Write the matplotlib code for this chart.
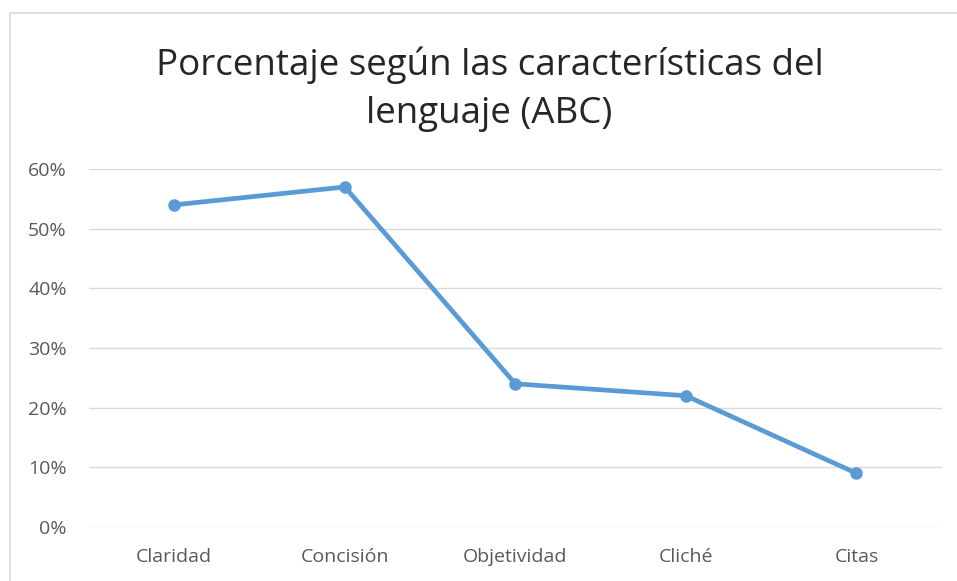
import matplotlib.pyplot as plt
from matplotlib.patches import Rectangle
from matplotlib.ticker import PercentFormatter

categories = ["Claridad", "Concisión", "Objetividad", "Cliché", "Citas"]
values = [0.54, 0.57, 0.24, 0.22, 0.09]
yticks = [0, 0.1, 0.2, 0.3, 0.4, 0.5, 0.6]

plt.rcParams['font.family'] = ['Open Sans', 'DejaVu Sans']

fig = plt.figure(figsize=(9.57, 5.81), dpi=100)
ax = fig.add_axes([0.093, 0.093, 0.891, 0.616])

x = range(len(categories))
ax.plot(x, values, color='#5B9BD5', lw=3.4, marker='o', markersize=8,
        solid_capstyle='round', solid_joinstyle='round', zorder=3)

ax.set_xlim(-0.5, len(categories) - 0.5)
ax.set_ylim(0, 0.6)
ax.set_yticks(yticks)
ax.yaxis.set_major_formatter(PercentFormatter(1.0, decimals=0))
ax.set_xticks(list(x))
ax.set_xticklabels(categories)
ax.tick_params(length=0, colors='#595959', labelsize=14, pad=15)
ax.tick_params(axis='y', pad=16)
ax.grid(axis='y', color='#D9D9D9', lw=1)
ax.set_axisbelow(True)
for s in ax.spines.values():
    s.set_visible(False)

fig.text(0.5115, 0.846, "Porcentaje según las características del\nlenguaje (ABC)",
         ha='center', va='center', fontsize=26.5, color='#262626', linespacing=1.45)

# chart border
fig.patches.append(Rectangle((10 / 957, -0.1), 1.2, (581 - 13) / 581 + 0.1,
                             transform=fig.transFigure, fill=False,
                             edgecolor='#D9D9D9', lw=1.2))

fig.savefig("out.png", dpi=100)
